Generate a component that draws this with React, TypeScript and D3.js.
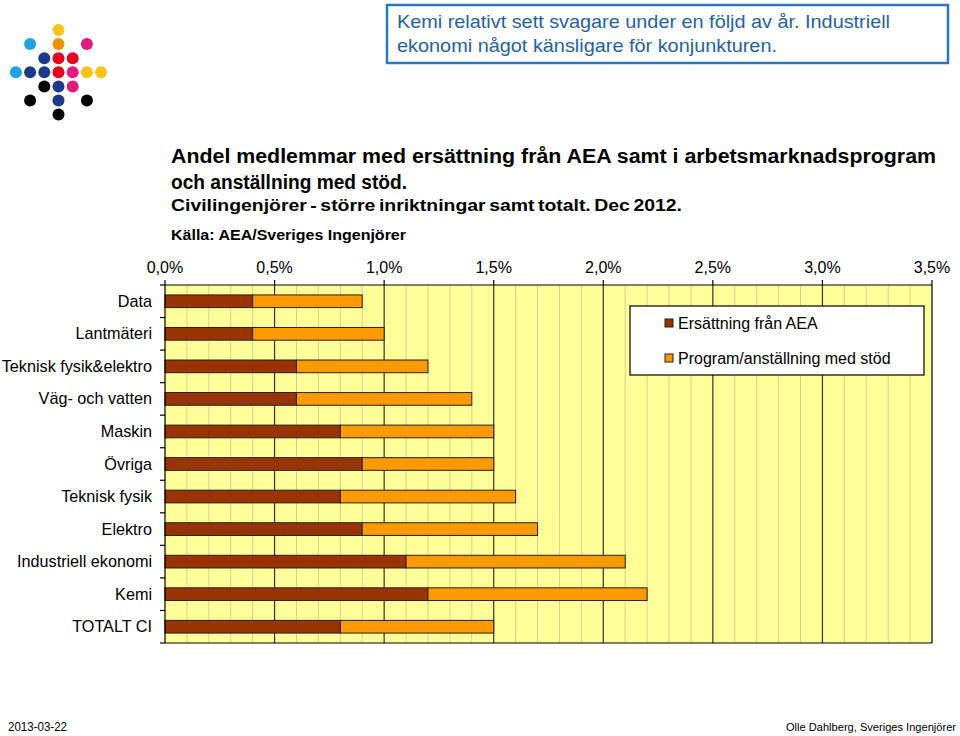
import React from "react";
import * as d3 from "d3";

const categories = [
  "Data",
  "Lantmäteri",
  "Teknisk fysik&elektro",
  "Väg- och vatten",
  "Maskin",
  "Övriga",
  "Teknisk fysik",
  "Elektro",
  "Industriell ekonomi",
  "Kemi",
  "TOTALT CI",
];
const aeaValues = [0.4, 0.4, 0.6, 0.6, 0.8, 0.9, 0.8, 0.9, 1.1, 1.2, 0.8];
const programValues = [0.5, 0.6, 0.6, 0.8, 0.7, 0.6, 0.8, 0.8, 1.0, 1.0, 0.7];
const seriesNames = ["Ersättning från AEA", "Program/anställning med stöd"];
const seriesColors = ["#993300", "#ff9900"];
const majorTicks = [0, 0.5, 1.0, 1.5, 2.0, 2.5, 3.0, 3.5];

const titleLines = [
  "Andel medlemmar med ersättning från AEA samt i arbetsmarknadsprogram",
  "och anställning med stöd.",
];
const subtitle = "Civilingenjörer - större inriktningar samt totalt. Dec 2012.";
const source = "Källa: AEA/Sveriges Ingenjörer";
const noteLines = [
  "Kemi relativt sett svagare under en följd av år. Industriell",
  "ekonomi något känsligare för konjunkturen.",
];
const footerLeft = "2013-03-22";
const footerRight = "Olle Dahlberg, Sveriges Ingenjörer";

// logo dots: [col, row, color]
const logoDots: [number, number, string][] = [
  [0, 0, "#f9c416"],
  [-2, 1, "#1ea5e0"], [0, 1, "#f39200"], [2, 1, "#e2197f"],
  [-1, 2, "#1d3a8a"], [0, 2, "#e30521"], [1, 2, "#e30521"],
  [-3, 3, "#1ea5e0"], [-2, 3, "#1d3a8a"], [-1, 3, "#1d3a8a"], [0, 3, "#e30521"], [1, 3, "#e2197f"], [2, 3, "#f9c416"], [3, 3, "#f9c416"],
  [-1, 4, "#000000"], [0, 4, "#1d3a8a"], [1, 4, "#e2197f"],
  [-2, 5, "#000000"], [0, 5, "#1d3a8a"], [2, 5, "#000000"],
  [0, 6, "#000000"],
];

const FONT = "'Liberation Sans', Arial, Helvetica, sans-serif";

export default function App() {
  const W = 960, H = 736;
  const left = 165, right = 932, top = 285, bottom = 643;
  const x = d3.scaleLinear().domain([0, 3.5]).range([left, right]);
  const y = d3.scaleBand<string>().domain(categories).range([top, bottom]).paddingInner(0.61).paddingOuter(0.305);
  const minorTicks = d3.range(0, 36).map((i) => i / 10).filter((v) => Math.abs(v * 2 - Math.round(v * 2)) > 1e-6);
  const fmt = (v: number) => v.toFixed(1).replace(".", ",") + "%";
  const bandStep = (bottom - top) / categories.length;
  const titleWidths = [765, 236];
  const noteWidths = [493, 380];

  return (
    <svg width={W} height={H} style={{ display: "block", position: "absolute", left: 0, top: 0 }} fontFamily={FONT}>
      <rect x={0} y={0} width={W} height={H} fill="#ffffff" />
      {/* logo */}
      {logoDots.map(([c, r, col], i) => (
        <circle key={i} cx={58.5 + c * 14.2} cy={30 + r * 14.1} r={6} fill={col} />
      ))}
      {/* note box */}
      <rect x={387} y={5} width={561} height={58} fill="#fff" stroke="#2a77bd" strokeWidth={2.5} />
      {noteLines.map((t, i) => (
        <text key={i} x={397} y={28 + i * 24} fontSize={19} fill="#1f63a8" textLength={noteWidths[i]} lengthAdjust="spacingAndGlyphs">{t}</text>
      ))}
      {/* titles */}
      {titleLines.map((t, i) => (
        <text key={i} x={171} y={163 + i * 26} fontSize={20} fontWeight="bold" fill="#000" textLength={titleWidths[i]} lengthAdjust="spacingAndGlyphs">{t}</text>
      ))}
      <text x={171} y={211} fontSize={16} fontWeight="bold" fill="#000" wordSpacing={-1.5} textLength={511} lengthAdjust="spacingAndGlyphs">{subtitle}</text>
      <text x={171} y={240} fontSize={14.5} fontWeight="bold" fill="#000" textLength={235} lengthAdjust="spacingAndGlyphs">{source}</text>

      {/* plot area */}
      <rect x={left} y={top} width={right - left} height={bottom - top} fill="#ffff99" />
      {minorTicks.map((v) => (
        <line key={"m" + v} x1={x(v)} x2={x(v)} y1={top} y2={bottom} stroke="#d9cf9a" strokeWidth={1} />
      ))}
      {majorTicks.slice(1, -1).map((v) => (
        <line key={"M" + v} x1={x(v)} x2={x(v)} y1={top} y2={bottom} stroke="#333" strokeWidth={1.2} />
      ))}
      {/* bars */}
      {categories.map((c, i) => {
        const y0 = y(c)!;
        const h = y.bandwidth();
        return (
          <g key={c}>
            <rect x={x(0)} y={y0} width={x(aeaValues[i]) - x(0)} height={h} fill={seriesColors[0]} stroke="#222" strokeWidth={1} />
            <rect x={x(aeaValues[i])} y={y0} width={x(aeaValues[i] + programValues[i]) - x(aeaValues[i])} height={h} fill={seriesColors[1]} stroke="#222" strokeWidth={1} />
          </g>
        );
      })}
      {/* axes */}
      <line x1={left} x2={right} y1={top} y2={top} stroke="#000" strokeWidth={1.2} />
      <line x1={left} x2={right} y1={bottom} y2={bottom} stroke="#000" strokeWidth={1.2} />
      <line x1={left} x2={left} y1={top} y2={bottom} stroke="#000" strokeWidth={1.2} />
      <line x1={right} x2={right} y1={top} y2={bottom} stroke="#000" strokeWidth={1.2} />
      {majorTicks.map((v) => (
        <g key={"t" + v}>
          <line x1={x(v)} x2={x(v)} y1={top - 5} y2={top} stroke="#000" strokeWidth={1.2} />
          <text x={x(v)} y={273} fontSize={16} textAnchor="middle" fill="#000">{fmt(v)}</text>
        </g>
      ))}
      {d3.range(categories.length + 1).map((i) => (
        <line key={"yt" + i} x1={left - 5} x2={left} y1={top + i * bandStep} y2={top + i * bandStep} stroke="#000" strokeWidth={1.2} />
      ))}
      {categories.map((c) => (
        <text key={"l" + c} x={152} y={y(c)! + y.bandwidth() / 2 + 5.5} fontSize={16.2} textAnchor="end" fill="#000">{c}</text>
      ))}
      {/* legend */}
      <rect x={630} y={306} width={294} height={69} fill="#fff" stroke="#000" strokeWidth={1.2} />
      {seriesNames.map((s, i) => (
        <g key={s}>
          <rect x={665} y={319 + i * 35} width={8} height={8} fill={seriesColors[i]} stroke="#222" strokeWidth={1} />
          <text x={678} y={329 + i * 35} fontSize={16} fill="#000">{s}</text>
        </g>
      ))}
      {/* footer */}
      <text x={8} y={731} fontSize={12} fill="#000" textLength={59} lengthAdjust="spacingAndGlyphs">{footerLeft}</text>
      <text x={786} y={731} fontSize={11} fill="#000" textLength={170} lengthAdjust="spacingAndGlyphs">{footerRight}</text>
    </svg>
  );
}
